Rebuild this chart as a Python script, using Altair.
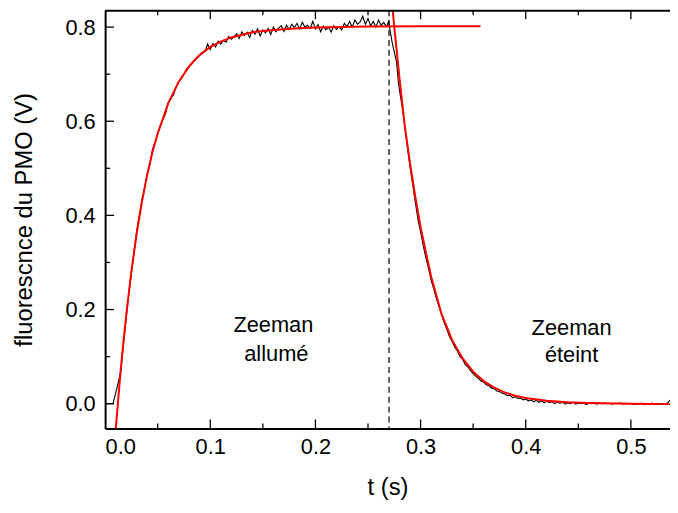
import altair as alt
import pandas as pd

# ---------------- data ----------------
T_STEP = 0.0025

# black trace, part 1 : t = 0 ... 0.2675 (step 0.0025)
BLACK_RISE = [
    0.000, 0.000, 0.000, 0.000, 0.022, 0.045, 0.070, 0.128, 0.180, 0.232,
    0.276, 0.322, 0.366, 0.400, 0.432, 0.458, 0.489, 0.507, 0.540, 0.556,
    0.572, 0.590, 0.604, 0.616, 0.640, 0.648, 0.656, 0.672, 0.684, 0.690,
    0.700, 0.712, 0.716, 0.722, 0.731, 0.734, 0.740, 0.744, 0.749, 0.764,
    0.752, 0.765, 0.758, 0.770, 0.764, 0.772, 0.768, 0.780, 0.774, 0.779,
    0.786, 0.776, 0.790, 0.782, 0.789, 0.778, 0.793, 0.785, 0.796, 0.781,
    0.794, 0.788, 0.797, 0.784, 0.800, 0.790, 0.798, 0.803, 0.791, 0.804,
    0.795, 0.806, 0.799, 0.808, 0.796, 0.810, 0.800, 0.804, 0.797, 0.812,
    0.796, 0.805, 0.790, 0.802, 0.794, 0.800, 0.789, 0.803, 0.795, 0.801,
    0.794, 0.808, 0.801, 0.812, 0.800, 0.815, 0.806, 0.811, 0.823, 0.806,
    0.818, 0.803, 0.812, 0.800, 0.815, 0.804, 0.810, 0.801,
]
# black trace, part 2 : the switch-off
BLACK_DROP_T = [0.2696, 0.2705, 0.2729, 0.2750, 0.2771, 0.2790]
BLACK_DROP_V = [0.812, 0.800, 0.768, 0.747, 0.726, 0.680]
# black trace, part 3 : t = 0.2825 ... 0.540 (step 0.0025)
DECAY_START = 0.2825
BLACK_DECAY = [
    0.630, 0.588, 0.545, 0.502, 0.465, 0.428, 0.392, 0.365, 0.336, 0.310,
    0.288, 0.262, 0.244, 0.224, 0.206, 0.188, 0.172, 0.158, 0.142, 0.132,
    0.120, 0.112, 0.100, 0.094, 0.083, 0.078, 0.070, 0.064, 0.058, 0.054,
    0.048, 0.046, 0.040, 0.038, 0.033, 0.032, 0.027, 0.026, 0.022, 0.021,
    0.017, 0.018, 0.013, 0.015, 0.011, 0.012, 0.008, 0.010, 0.006, 0.008,
    0.004, 0.007, 0.003, 0.006, 0.002, 0.005, 0.002, 0.004, 0.000, 0.003,
    0.001, 0.003, -0.001, 0.002, 0.000, 0.003, -0.001, 0.001, 0.000, 0.002,
    -0.002, 0.001, 0.000, 0.002, -0.001, 0.001, 0.000, 0.002, 0.000, 0.001,
    -0.001, 0.001, 0.000, 0.002, -0.001, 0.001, 0.000, 0.001, -0.002, 0.000,
    -0.001, 0.001, -0.002, 0.000, -0.001, 0.001, -0.002, 0.000, -0.001, 0.000,
    -0.002, 0.002, 0.008, 0.010,
]

# red fits
FIT_RISE_T = [0.0095, 0.0125, 0.015, 0.0175, 0.02, 0.025, 0.03, 0.035, 0.04, 0.045,
              0.05, 0.06, 0.07, 0.08, 0.09, 0.10, 0.11, 0.12, 0.14, 0.16,
              0.18, 0.20, 0.25, 0.30, 0.357]
FIT_RISE_V = [-0.07, 0.01, 0.076, 0.133, 0.187, 0.282, 0.361, 0.429, 0.486, 0.534,
              0.574, 0.638, 0.684, 0.717, 0.741, 0.758, 0.769, 0.778, 0.789, 0.794,
              0.797, 0.799, 0.801, 0.802, 0.802]
FIT_DECAY_T = [0.2705, 0.275, 0.28, 0.285, 0.29, 0.295, 0.30, 0.31, 0.32, 0.33,
               0.34, 0.35, 0.36, 0.37, 0.38, 0.39, 0.40, 0.42, 0.44, 0.46,
               0.50, 0.54]
FIT_DECAY_V = [0.91, 0.80, 0.69, 0.59, 0.51, 0.44, 0.375, 0.27, 0.19, 0.135,
               0.096, 0.068, 0.048, 0.034, 0.024, 0.017, 0.012, 0.006, 0.003, 0.0015,
               0.0, -0.001]

SWITCH_T = [0.27]

LABEL_T = [0.160, 0.160, 0.4436, 0.4436]
LABEL_V = [0.1516, 0.0905, 0.145, 0.088]
LABEL_TEXT = ["Zeeman", "allumé", "Zeeman", "éteint"]
LABEL_DX = [0, 3, 0, 0]

X_LABELS = [0.0, 0.1, 0.2, 0.3, 0.4, 0.5]
X_MAJOR = [0.1, 0.2, 0.3, 0.4, 0.5]
X_MINOR = [0.05, 0.15, 0.25, 0.35, 0.45]
Y_LABELS = [0.0, 0.2, 0.4, 0.6, 0.8]
Y_MINOR = [0.1, 0.3, 0.5, 0.7]

# ---------------- tables ----------------
t_black = ([round(i * T_STEP, 4) for i in range(len(BLACK_RISE))]
           + BLACK_DROP_T
           + [round(DECAY_START + i * T_STEP, 4) for i in range(len(BLACK_DECAY))])
v_black = BLACK_RISE + BLACK_DROP_V + BLACK_DECAY
df_black = pd.DataFrame({"t": t_black, "v": v_black, "i": list(range(len(t_black)))})
df_rise = pd.DataFrame({"t": FIT_RISE_T, "v": FIT_RISE_V})
df_decay = pd.DataFrame({"t": FIT_DECAY_T, "v": FIT_DECAY_V})
df_switch = pd.DataFrame({"t": SWITCH_T})
df_text = pd.DataFrame({"t": [a + d / 1061 for a, d in zip(LABEL_T, LABEL_DX)],
                        "v": LABEL_V, "label": LABEL_TEXT})
df_xmaj = pd.DataFrame({"t": X_MAJOR})
df_xmin = pd.DataFrame({"t": X_MINOR})
df_ymaj = pd.DataFrame({"v": Y_LABELS})
df_ymin = pd.DataFrame({"v": Y_MINOR})
df_one = pd.DataFrame({"a": [0]})

# ---------------- chart ----------------
W, H = 570, 422
FONT = "Liberation Sans"
xs = alt.Scale(domain=[0, 0.5372], nice=False, zero=False)
ys = alt.Scale(domain=[-0.0526, 0.8358], nice=False, zero=False)

x_axis = alt.Axis(values=X_LABELS, format=".1f", ticks=False, grid=False,
                  title="t (s)", labelPadding=8, titlePadding=19)
y_axis = alt.Axis(values=Y_LABELS, format=".1f", ticks=False, grid=False,
                  title="fluorescnce du PMO (V)", labelPadding=10, titlePadding=29)

X0 = alt.X("t:Q", scale=xs, axis=x_axis)
Y0 = alt.Y("v:Q", scale=ys, axis=y_axis)

black = alt.Chart(df_black).mark_line(color="black", strokeWidth=1.1, clip=True).encode(
    x=X0, y=Y0, order="i:Q")

rise = alt.Chart(df_rise).mark_line(color="#ff0000", strokeWidth=2, clip=True).encode(x=X0, y=Y0)
decay = alt.Chart(df_decay).mark_line(color="#ff0000", strokeWidth=2, clip=True).encode(x=X0, y=Y0)
switch = alt.Chart(df_switch).mark_rule(color="black", strokeWidth=1.2, strokeDash=[6, 4]).encode(x=X0)

texts = alt.Chart(df_text).mark_text(font=FONT, fontSize=22, align="center",
                                     baseline="alphabetic", color="black").encode(
    x=X0, y=Y0, text="label:N")

tick_style = dict(color="black", strokeWidth=1.3)
xb_maj = alt.Chart(df_xmaj).mark_rule(**tick_style).encode(x=X0, y=alt.value(H), y2=alt.value(H - 9))
xb_min = alt.Chart(df_xmin).mark_rule(**tick_style).encode(x=X0, y=alt.value(H), y2=alt.value(H - 5))
xt_maj = alt.Chart(df_xmaj).mark_rule(**tick_style).encode(x=X0, y=alt.value(0), y2=alt.value(9))
xt_min = alt.Chart(df_xmin).mark_rule(**tick_style).encode(x=X0, y=alt.value(0), y2=alt.value(5))
yl_maj = alt.Chart(df_ymaj).mark_rule(**tick_style).encode(y=Y0, x=alt.value(0), x2=alt.value(9))
yl_min = alt.Chart(df_ymin).mark_rule(**tick_style).encode(y=Y0, x=alt.value(0), x2=alt.value(5))
top_frame = alt.Chart(df_one).mark_rule(color="black", strokeWidth=2).encode(
    x=alt.value(0), x2=alt.value(W), y=alt.value(0.5))

chart = alt.layer(
    black, switch, rise, decay, texts,
    xb_maj, xb_min, xt_maj, xt_min, yl_maj, yl_min, top_frame,
).properties(
    width=W, height=H,
    autosize=alt.AutoSizeParams(type="none"),
    padding={"left": 98, "top": 0, "right": 0, "bottom": 75},
).configure_view(stroke=None).configure_axis(
    domainColor="black", domainWidth=2,
    labelFont=FONT, labelFontSize=22, labelColor="black",
    titleFont=FONT, titleFontSize=24, titleFontWeight="normal", titleColor="black",
)

chart.save("out.html", embed_options={"renderer": "svg", "actions": False})
